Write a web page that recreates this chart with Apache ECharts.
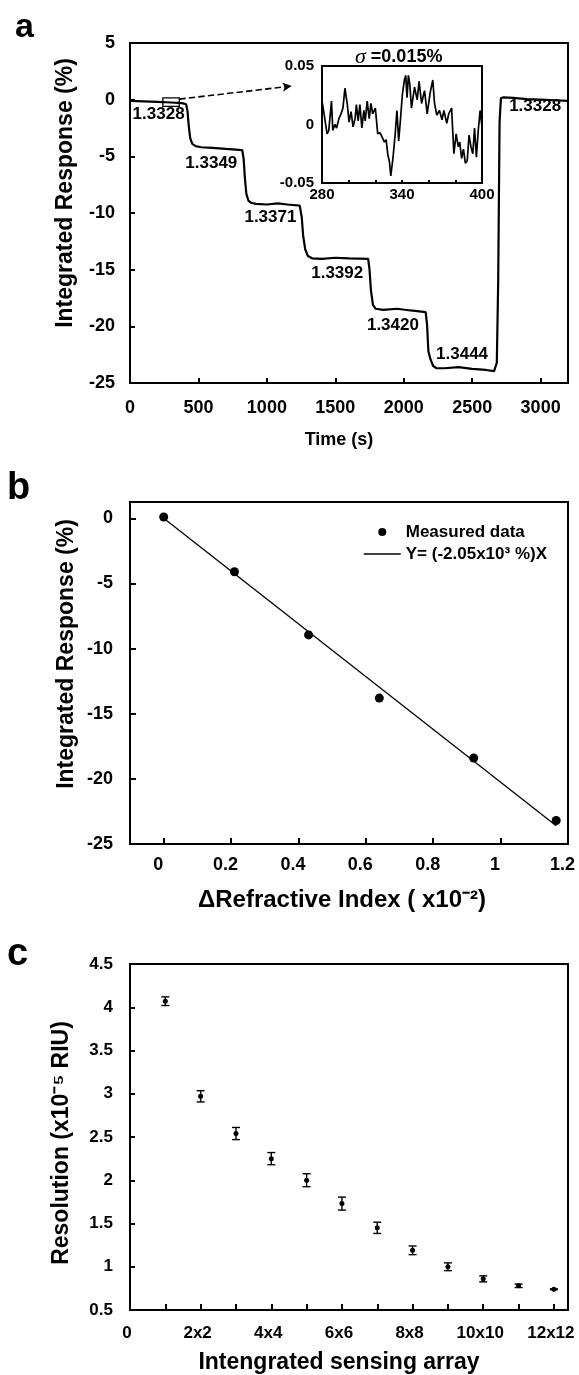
<!DOCTYPE html>
<html>
<head>
<meta charset="utf-8">
<script src="https://cdn.jsdelivr.net/npm/echarts@6/dist/echarts.min.js"></script>
<style>
html,body{margin:0;padding:0;background:#fff}
#main{width:579px;height:1375px}
</style>
</head>
<body>
<div id="main"></div>
<script>
// ---- panel a : sensor response vs time ----
var timeData = [0, 100, 200, 300, 380, 410, 420, 430, 440, 455, 480, 520, 600, 700, 820, 830, 840, 850, 865, 885, 920, 1000, 1080, 1150, 1240, 1255, 1265, 1280, 1300, 1330, 1400, 1500, 1600, 1740, 1750, 1760, 1775, 1795, 1850, 1950, 2050, 2160, 2170, 2180, 2195, 2215, 2240, 2300, 2400, 2500, 2600, 2660, 2680, 2690, 2700, 2710, 2730, 2800, 2900, 3000, 3100, 3200];
var responseData = [-0.1, -0.15, -0.2, -0.25, -0.3, -0.4, -1.0, -2.4, -3.4, -3.9, -4.1, -4.2, -4.25, -4.35, -4.45, -5.2, -7.0, -8.3, -8.9, -9.1, -9.2, -9.25, -9.15, -9.25, -9.35, -10.4, -12.0, -13.2, -13.8, -14.0, -14.05, -13.95, -14.0, -14.05, -15.0, -16.8, -18.1, -18.45, -18.55, -18.45, -18.6, -18.75, -19.8, -22.2, -22.9, -23.5, -23.7, -23.7, -23.6, -23.75, -23.85, -23.95, -23.2, -16.0, -2.0, 0.15, 0.2, 0.15, 0.05, 0.0, -0.05, -0.1];
var stepText = ['1.3328', '1.3349', '1.3371', '1.3392', '1.3420', '1.3444', '1.3328'];
var stepTextX = [209, 594, 1026, 1514, 1921, 2426, 2960];
var stepTextY = [-1.3, -5.6, -10.4, -15.3, -19.9, -22.5, -0.6];
var xTicksA = [0, 500, 1000, 1500, 2000, 2500, 3000];

// inset : baseline noise 280-400 s
var insetTime = [280.0, 281.3, 283.8, 285.1, 287.1, 288.1, 289.6, 290.9, 292.7, 294.2, 295.7, 297.2, 299.0, 300.3, 301.8, 303.3, 304.8, 305.8, 307.1, 308.4, 309.9, 311.4, 312.4, 313.9, 315.4, 316.7, 318.0, 320.0, 321.8, 323.5, 325.6, 326.8, 328.1, 329.4, 330.6, 331.6, 333.2, 334.9, 336.2, 337.5, 338.7, 340.3, 341.8, 342.8, 343.8, 344.8, 345.8, 347.1, 349.4, 351.4, 352.8, 354.7, 356.9, 358.9, 361.1, 363.1, 364.4, 366.1, 368.1, 370.0, 371.4, 373.6, 375.0, 377.2, 378.9, 380.6, 382.2, 383.3, 384.7, 386.1, 387.5, 388.9, 390.3, 391.7, 393.1, 394.4, 395.8, 397.2, 398.6, 400.0];
var insetResponse = [0.020, 0.011, -0.008, -0.005, 0.020, -0.005, 0.000, -0.003, 0.005, 0.009, 0.014, 0.031, 0.017, 0.002, 0.011, -0.002, 0.005, 0.017, 0.003, 0.017, -0.003, 0.012, 0.003, 0.020, 0.005, 0.018, 0.009, 0.014, -0.008, -0.007, -0.012, -0.015, -0.013, -0.026, -0.032, -0.044, -0.029, -0.008, 0.012, -0.014, 0.002, 0.026, 0.038, 0.042, 0.023, 0.042, 0.035, 0.014, 0.032, 0.021, 0.037, 0.018, 0.029, 0.009, 0.027, 0.038, 0.018, 0.008, 0.012, 0.004, 0.012, 0.001, 0.009, 0.014, -0.025, -0.008, -0.019, -0.015, -0.029, -0.021, -0.033, -0.031, -0.009, -0.019, -0.025, -0.003, -0.028, -0.005, 0.012, -0.002];

// ---- panel b : response vs refractive index change ----
var deltaRI = [0, 0.21, 0.43, 0.64, 0.92, 1.165];
var measuredResponse = [0.1, -4.1, -8.95, -13.8, -18.4, -23.2];
var fitX = [0, 1.165];
var fitY = [0, -23.6];
var xTicksB = [0, 0.2, 0.4, 0.6, 0.8, 1, 1.2];
var yTicksB = [0, -5, -10, -15, -20, -25];

// ---- panel c : resolution vs array size ----
var arraySize = [1, 2, 3, 4, 5, 6, 7, 8, 9, 10, 11, 12];
var resolution = [4.07, 2.97, 2.54, 2.25, 2.0, 1.73, 1.45, 1.19, 1.0, 0.86, 0.78, 0.74];
var resolutionErr = [0.05, 0.065, 0.07, 0.07, 0.075, 0.075, 0.065, 0.05, 0.045, 0.035, 0.02, 0.005];
var xLabelsC = [0, 2, 4, 6, 8, 10, 12];

var FONT = '"Liberation Sans", Arial, sans-serif';
var black = '#000';

function lbl(size, extra){
	var o = {color: black, fontFamily: FONT, fontWeight: 'bold', fontSize: size};
	for (var k in extra) o[k] = extra[k];
	return o;
}
function boxAxis(extra){
	var o = {
		nameMoveOverlap: false,
		axisLine: {show: true, onZero: false, lineStyle: {color: black, width: 2}},
		axisTick: {show: true, inside: true, length: 5, lineStyle: {color: black, width: 2}},
		splitLine: {show: false}
	};
	for (var k in extra) o[k] = extra[k];
	return o;
}

var myChart = echarts.init(document.getElementById('main'), null, {renderer: 'canvas'});

var option = {
	animation: false,
	backgroundColor: '#fff',
	grid: [
		{left: 130, top: 43, width: 438, height: 340, show: true, borderColor: black, borderWidth: 2},
		{left: 322, top: 66, width: 160, height: 117, show: true, borderColor: black, borderWidth: 2, z: 5},
		{left: 130, top: 502, width: 438, height: 342, show: true, borderColor: black, borderWidth: 2},
		{left: 130, top: 964, width: 438, height: 346, show: true, borderColor: black, borderWidth: 2}
	],
	xAxis: [
		boxAxis({gridIndex: 0, type: 'value', min: 0, max: 3200,
			axisTick: {show: true, inside: true, length: 5, customValues: xTicksA, lineStyle: {color: black, width: 2}},
			axisLabel: lbl(18, {margin: 16, customValues: xTicksA, formatter: function(v){ return String(v); }}),
			name: 'Time (s)', nameLocation: 'middle', nameGap: 48, nameTextStyle: lbl(18, {padding: [0, 20, 0, 0]})}),
		boxAxis({gridIndex: 1, type: 'value', min: 280, max: 400, interval: 20,
			axisTick: {show: true, inside: true, length: 3, lineStyle: {color: black, width: 2}},
			axisLabel: lbl(15, {margin: 4, formatter: function(v){ return (v - 280) % 60 === 0 ? String(v) : ''; }})}),
		boxAxis({gridIndex: 2, type: 'value', min: -0.1, max: 1.2,
			axisTick: {show: true, inside: true, length: 6, customValues: xTicksB, lineStyle: {color: black, width: 2}},
			axisLabel: lbl(18, {margin: 12, customValues: xTicksB, padding: [0, 11, 0, 0]}),
			name: 'ΔRefractive Index ( x10⁻²)', nameLocation: 'middle', nameGap: 44, nameTextStyle: lbl(24, {padding: [0, 14, 0, 0]})}),
		boxAxis({gridIndex: 3, type: 'value', min: 0, max: 12.4,
			axisTick: {show: true, inside: true, length: 6, customValues: arraySize, lineStyle: {color: black, width: 2}},
			axisLabel: lbl(17, {margin: 15, customValues: xLabelsC, padding: [0, 6, 0, 0], formatter: function(v){ return v === 0 ? '0' : v + 'x' + v; }}),
			name: 'Intengrated sensing array', nameLocation: 'middle', nameGap: 41, nameTextStyle: lbl(23, {padding: [0, 20, 0, 0]})})
	],
	yAxis: [
		boxAxis({gridIndex: 0, type: 'value', min: -25, max: 5, interval: 5,
			axisLabel: lbl(18, {margin: 15}),
			name: 'Integrated Response (%)', nameLocation: 'middle', nameGap: 53, nameTextStyle: lbl(23, {padding: [0, 0, 0, 40]})}),
		boxAxis({gridIndex: 1, type: 'value', min: -0.05, max: 0.05, interval: 0.05,
			axisTick: {show: false},
			axisLabel: lbl(15, {margin: 8})}),
		boxAxis({gridIndex: 2, type: 'value', min: -25, max: 1.25,
			axisTick: {show: true, inside: true, length: 6, customValues: yTicksB, lineStyle: {color: black, width: 2}},
			axisLabel: lbl(18, {margin: 17, customValues: yTicksB}),
			name: 'Integrated Response (%)', nameLocation: 'middle', nameGap: 52, nameTextStyle: lbl(23, {padding: [0, 0, 0, 38]})}),
		boxAxis({gridIndex: 3, type: 'value', min: 0.5, max: 4.5, interval: 0.5,
			axisLabel: lbl(17, {margin: 17}),
			name: 'Resolution (x10⁻⁵ RIU)', nameLocation: 'middle', nameGap: 57, nameTextStyle: lbl(23, {padding: [0, 12, 0, 0]})})
	],
	legend: {
		left: 363, top: 523, orient: 'vertical', padding: 0, itemWidth: 37, itemHeight: 8, itemGap: 4,
		textStyle: lbl(17, {lineHeight: 18}),
		data: [
			{name: 'Measured data'},
			{name: 'Y= (-2.05x10³ %)X', itemStyle: {opacity: 0}, lineStyle: {color: black, width: 1.5, opacity: 1}}
		]
	},
	graphic: [
		{type: 'text', left: 15, top: 11, style: {text: 'a', fill: black, font: 'bold 34px ' + FONT}},
		{type: 'text', left: 7, top: 470, style: {text: 'b', fill: black, font: 'bold 38px ' + FONT}},
		{type: 'text', left: 7, top: 936, style: {text: 'c', fill: black, font: 'bold 38px ' + FONT}},
		{type: 'text', left: 355, top: 46, style: {
			text: '{s|σ}{t| =0.015%}',
			rich: {
				s: {fill: black, fontFamily: '"Liberation Serif", serif', fontStyle: 'italic', fontSize: 22},
				t: {fill: black, fontFamily: FONT, fontWeight: 'bold', fontSize: 18}
			}
		}}
	],
	series: [
		{
			type: 'line', xAxisIndex: 0, yAxisIndex: 0, symbol: 'none',
			lineStyle: {color: black, width: 2.2},
			data: timeData.map(function(t, i){ return [t, responseData[i]]; }),
			markArea: {silent: true, itemStyle: {color: 'rgba(0,0,0,0)', borderColor: black, borderWidth: 1.3},
				data: [[{coord: [240, 0.15]}, {coord: [360, -0.6]}]]},
			markLine: {silent: true, symbol: ['none', 'arrow'], symbolSize: [7, 9],
				lineStyle: {color: black, width: 1.6, type: 'dashed'}, label: {show: false},
				data: [[{coord: [360, 0.05]}, {coord: [1180, 1.2]}]]}
		},
		{
			type: 'scatter', xAxisIndex: 0, yAxisIndex: 0, symbolSize: 0, silent: true,
			itemStyle: {opacity: 1},
			label: {show: true, position: 'inside', formatter: function(p){ return p.value[2]; }, color: black, opacity: 1, fontFamily: FONT, fontWeight: 'bold', fontSize: 17},
			data: stepText.map(function(s, i){ return [stepTextX[i], stepTextY[i], s]; })
		},
		{
			type: 'line', xAxisIndex: 1, yAxisIndex: 1, symbol: 'none', z: 6,
			lineStyle: {color: black, width: 1.7},
			data: insetTime.map(function(t, i){ return [t, insetResponse[i]]; })
		},
		{
			name: 'Y= (-2.05x10³ %)X', type: 'line', xAxisIndex: 2, yAxisIndex: 2, symbol: 'none',
			lineStyle: {color: black, width: 1.3}, itemStyle: {color: black},
			data: fitX.map(function(x, i){ return [x, fitY[i]]; })
		},
		{
			name: 'Measured data', type: 'scatter', xAxisIndex: 2, yAxisIndex: 2, symbolSize: 9,
			itemStyle: {color: black, opacity: 1}, z: 4,
			data: deltaRI.map(function(x, i){ return [x, measuredResponse[i]]; })
		},
		{
			type: 'custom', xAxisIndex: 3, yAxisIndex: 3,
			encode: {x: 0, y: [1, 2]},
			renderItem: function(params, api){
				var x = api.value(0);
				var pLo = api.coord([x, api.value(1)]);
				var pHi = api.coord([x, api.value(2)]);
				var w = 4;
				var st = {stroke: black, lineWidth: 1.4};
				return {type: 'group', children: [
					{type: 'line', shape: {x1: pLo[0], y1: pLo[1], x2: pHi[0], y2: pHi[1]}, style: st},
					{type: 'line', shape: {x1: pLo[0] - w, y1: pLo[1], x2: pLo[0] + w, y2: pLo[1]}, style: st},
					{type: 'line', shape: {x1: pHi[0] - w, y1: pHi[1], x2: pHi[0] + w, y2: pHi[1]}, style: st}
				]};
			},
			data: arraySize.map(function(x, i){ return [x, resolution[i] - resolutionErr[i], resolution[i] + resolutionErr[i]]; })
		},
		{
			type: 'scatter', xAxisIndex: 3, yAxisIndex: 3, symbolSize: 5,
			itemStyle: {color: black, opacity: 1}, z: 4,
			data: arraySize.map(function(x, i){ return [x, resolution[i]]; })
		}
	]
};
myChart.setOption(option);
</script>
</body>
</html>
